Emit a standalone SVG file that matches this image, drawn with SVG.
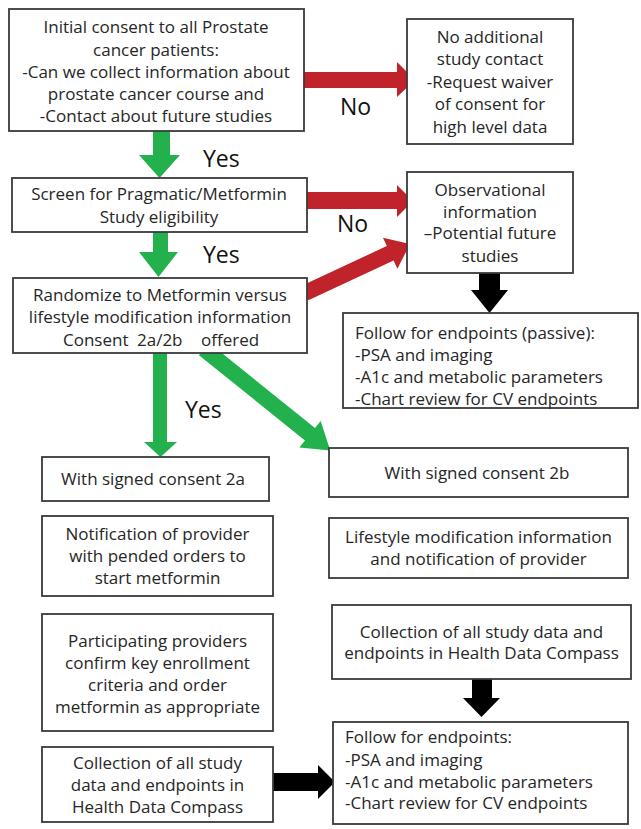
<svg xmlns="http://www.w3.org/2000/svg" width="641" height="829" viewBox="0 0 641 829">
<style>
.box{fill:#fff;stroke:#3a3a3a;stroke-width:1.8}
.t{font-family:"Open Sans","Liberation Sans",sans-serif;font-size:17px;fill:#262626;text-anchor:middle}
.tl{font-family:"Open Sans","Liberation Sans",sans-serif;font-size:17px;fill:#262626}
.lab{font-family:"Open Sans","Liberation Sans",sans-serif;font-size:23px;fill:#111}
.g{fill:#22b14c}
.r{fill:#c1232b}
.k{fill:#000}
</style>
<rect width="641" height="829" fill="#fff"/>
<g id="connectors">
<polygon class="r" points="304,72 397,72 397,62 415,80 397,97 397,88 304,88"/>
<polygon class="r" points="304,192 397,192 397,185 413,201 397,217 397,209 304,209"/>
<polygon class="r" transform="translate(305,293) rotate(-25)" points="0,-8 94,-8 94,-17 116,0 94,17 94,8 0,8"/>
<polygon class="g" points="153,130 170,130 170,155 180,155 159.5,178 139,155 153,155"/>
<polygon class="g" points="153,231 168,231 168,252 178,252 158.5,277 139,252 153,252"/>
<polygon class="g" points="153,352 167,352 167,442 177,442 160.5,457 144,442 153,442"/>
<polygon class="g" transform="translate(204,349) rotate(38.8)" points="0,-8 136,-8 136,-17 162,0 136,17 136,8 0,8"/>
<polygon class="k" points="479,272 500,272 500,290 508,290 489.5,313 471,290 479,290"/>
<polygon class="k" points="272,773 318,773 318,765 335,782 318,799 318,791 272,791"/>
<polygon class="k" points="472,678 492,678 492,698 500,698 481.5,717 463,698 472,698"/>
<text class="lab" x="203" y="167">Yes</text>
<text class="lab" x="203" y="263">Yes</text>
<text class="lab" x="185" y="418">Yes</text>
<text class="lab" x="340" y="115">No</text>
<text class="lab" x="337" y="232">No</text>
</g>
<g id="n1">
<rect class="box" x="9" y="9" width="295" height="122"/>
<text class="t" x="156" y="33">Initial consent to all Prostate</text>
<text class="t" x="156" y="55.5">cancer patients:</text>
<text class="t" x="156" y="78">-Can we collect information about</text>
<text class="t" x="156" y="100">prostate cancer course and</text>
<text class="t" x="156" y="122">-Contact about future studies</text>
</g>
<g id="n2">
<rect class="box" x="407" y="19" width="166" height="125"/>
<text class="t" x="490" y="43">No additional</text>
<text class="t" x="490" y="65">study contact</text>
<text class="t" x="490" y="88">-Request waiver</text>
<text class="t" x="490" y="110">of consent for</text>
<text class="t" x="490" y="133">high level data</text>
</g>
<g id="n3">
<rect class="box" x="12" y="178" width="295" height="54"/>
<text class="t" x="159" y="200">Screen for Pragmatic/Metformin</text>
<text class="t" x="159" y="223">Study eligibility</text>
</g>
<g id="n4">
<rect class="box" x="13" y="278" width="294" height="75"/>
<text class="t" x="160" y="301">Randomize to Metformin versus</text>
<text class="t" x="160" y="323">lifestyle modification information</text>
<text class="tl" y="346"><tspan x="63">Consent </tspan><tspan x="137">2a/2b </tspan><tspan x="201">offered</tspan></text>
</g>
<g id="n5">
<rect class="box" x="407" y="172" width="166" height="101"/>
<text class="t" x="490" y="196">Observational</text>
<text class="t" x="490" y="218">information</text>
<text class="t" x="490" y="239">–Potential future</text>
<text class="t" x="490" y="262">studies</text>
</g>
<g id="n6">
<rect class="box" x="343" y="313" width="295" height="95"/>
<text class="tl" x="355" y="339">Follow for endpoints (passive):</text>
<text class="tl" x="355" y="361">-PSA and imaging</text>
<text class="tl" x="355" y="383">-A1c and metabolic parameters</text>
<text class="tl" x="355" y="405">-Chart review for CV endpoints</text>
</g>
<g id="n7">
<rect class="box" x="42" y="457" width="227" height="44"/>
<text class="t" x="153" y="485">With signed consent 2a</text>
</g>
<g id="n8">
<rect class="box" x="329" y="448" width="299" height="49"/>
<text class="t" x="477" y="479">With signed consent 2b</text>
</g>
<g id="n9">
<rect class="box" x="42" y="516" width="231" height="80"/>
<text class="t" x="157.5" y="540">Notification of provider</text>
<text class="t" x="157.5" y="562">with pended orders to</text>
<text class="t" x="157.5" y="584">start metformin</text>
</g>
<g id="n10">
<rect class="box" x="329" y="518" width="299" height="60"/>
<text class="t" x="478.5" y="543">Lifestyle modification information</text>
<text class="t" x="478.5" y="565">and notification of provider</text>
</g>
<g id="n11">
<rect class="box" x="42" y="614" width="231" height="117"/>
<text class="t" x="157.5" y="647">Participating providers</text>
<text class="t" x="157.5" y="669">confirm key enrollment</text>
<text class="t" x="157.5" y="691">criteria and order</text>
<text class="t" x="157.5" y="713">metformin as appropriate</text>
</g>
<g id="n12">
<rect class="box" x="42" y="747" width="231" height="75"/>
<text class="t" x="157.5" y="769">Collection of all study</text>
<text class="t" x="157.5" y="791">data and endpoints in</text>
<text class="t" x="157.5" y="813">Health Data Compass</text>
</g>
<g id="n13">
<rect class="box" x="332" y="605" width="299" height="74"/>
<text class="t" x="481.5" y="638">Collection of all study data and</text>
<text class="t" x="481.5" y="659">endpoints in Health Data Compass</text>
</g>
<g id="n14">
<rect class="box" x="333" y="722" width="295" height="102"/>
<text class="tl" x="345" y="743">Follow for endpoints:</text>
<text class="tl" x="345" y="766">-PSA and imaging</text>
<text class="tl" x="345" y="788">-A1c and metabolic parameters</text>
<text class="tl" x="345" y="809">-Chart review for CV endpoints</text>
</g>
</svg>
